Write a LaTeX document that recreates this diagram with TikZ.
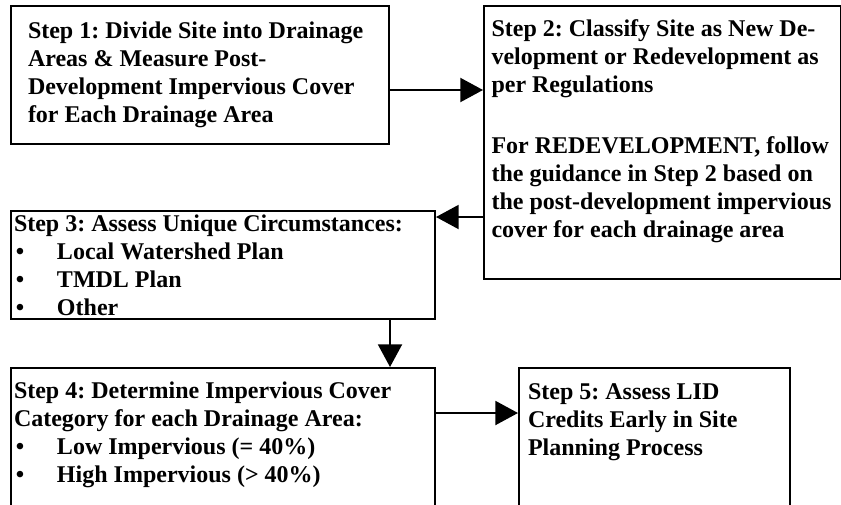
\documentclass[tikz,border=0pt]{standalone}
\usepackage{fontspec}
\setmainfont{Liberation Serif}
\usepackage{tikz}
\usetikzlibrary{arrows.meta}
\newcommand{\stepfont}{\fontsize{18pt}{21pt}\selectfont\bfseries\frenchspacing\hyphenpenalty 10000\relax}
\newcommand{\plainspaces}{\spaceskip 0pt\xspaceskip 0pt\relax}
\newcommand{\bulletline}[1]{\hspace*{1.5pt}\makebox[30.75pt][l]{\textbullet}#1}

\begin{document}
\begin{tikzpicture}[x=0.75pt,y=-0.75pt,
    stepbox/.style={draw,line width=1.5pt,anchor=north west,align=flush left,inner ysep=0pt,
      font=\stepfont,execute at begin node=\plainspaces},
    flow/.style={-{Triangle[length=17pt,width=18pt]},line width=1.5pt}]
  \path[use as bounding box,clip] (0,0) rectangle (841,504);
  % the five steps
  \node[stepbox,inner xsep=12.75pt,text width=258pt,text height=24pt,text depth=79.5pt] (s1) at (10,5)
    {Step 1: Divide Site into Drainage\\Areas \& Measure Post-\\Development Impervious Cover\\for Each Drainage Area};
  \node[stepbox,inner xsep=5.625pt,text width=256.5pt,text height=22.5pt,text depth=182.25pt] (s2) at (483,5)
    {Step 2: Classify Site as New De-\\velopment or Redevelopment as\\per Regulations\\[25pt]For REDEVELOPMENT, follow\\the guidance in Step 2 based on\\the post-development impervious\\cover for each drainage area};
  \node[stepbox,inner xsep=2.25pt,text width=313.5pt,text height=15pt,text depth=66pt] (s3) at (10,210)
    {Step 3: Assess Unique Circumstances:\\\bulletline{Local Watershed Plan}\\\bulletline{TMDL Plan}\\\bulletline{Other}};
  \node[stepbox,inner xsep=2.25pt,text width=313.5pt,text height=22.5pt,text depth=99.75pt] (s4) at (10,367)
    {Step 4: Determine Impervious Cover\\Category for each Drainage Area:\\\bulletline{Low Impervious (= 40\%)}\\\bulletline{High Impervious (> 40\%)}};
  \node[stepbox,inner xsep=6.75pt,text width=189.75pt,text height=23.25pt,text depth=98.25pt] (s5) at (518,367)
    {Step 5: Assess LID\\Credits Early in Site\\Planning Process};
  % connectors
  \draw[flow] (s1.east |- 0,90) -- (s2.west |- 0,90);
  \draw[flow] (s2.west |- 0,217) -- (s3.east |- 0,217);
  \draw[flow] (s3.south -| 390,0) -- (s4.north -| 390,0);
  \draw[flow] (s4.east |- 0,413) -- (s5.west |- 0,413);
\end{tikzpicture}
\end{document}
